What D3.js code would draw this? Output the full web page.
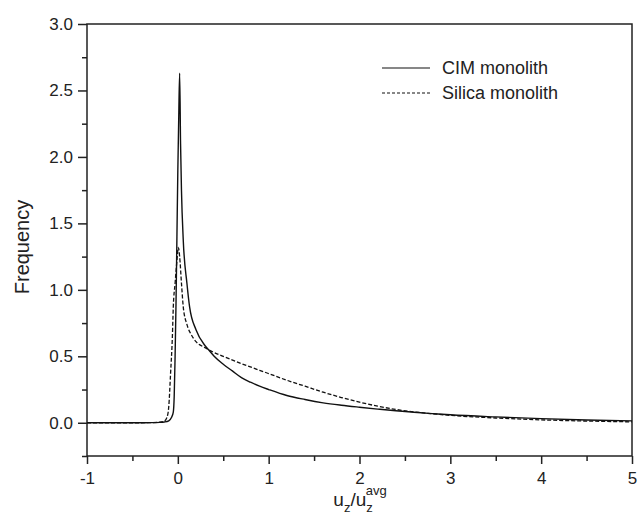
<!DOCTYPE html>
<html>
<head>
<meta charset="utf-8">
<script src="https://cdn.jsdelivr.net/npm/d3@7"></script>
<style>
  body { margin: 0; background: #fff; }
  text { font-family: Arial, "Liberation Sans", sans-serif; fill: #222; }
</style>
</head>
<body>
<div id="chart"></div>
<script>
// Velocity distribution data
const cimU = [-1, -0.5, -0.3, -0.2, -0.15, -0.1, -0.07, -0.05, -0.04, -0.03, -0.02, -0.01, 0, 0.01, 0.02, 0.03, 0.04, 0.06, 0.1, 0.13, 0.2, 0.3, 0.35, 0.4, 0.5, 0.6, 0.7, 0.8, 0.9, 1.0, 1.2, 1.4, 1.6, 1.8, 2.0, 2.2, 2.4, 2.6, 2.8, 3.0, 3.5, 4.0, 4.5, 5.0];
const cimFreq = [0, 0, 0.001, 0.003, 0.006, 0.015, 0.04, 0.08, 0.2, 0.5, 0.9, 1.4, 1.9, 2.3, 2.63, 2.1, 1.75, 1.37, 1.05, 0.87, 0.7, 0.58, 0.54, 0.5, 0.44, 0.39, 0.34, 0.305, 0.275, 0.25, 0.205, 0.175, 0.15, 0.132, 0.117, 0.103, 0.09, 0.079, 0.069, 0.06, 0.044, 0.031, 0.021, 0.014];

const silicaU = [-1, -0.5, -0.3, -0.2, -0.15, -0.12, -0.1, -0.08, -0.06, -0.05, -0.03, -0.01, 0.005, 0.02, 0.04, 0.06, 0.1, 0.15, 0.2, 0.3, 0.35, 0.5, 0.7, 0.9, 1.0, 1.2, 1.4, 1.6, 1.8, 2.0, 2.2, 2.4, 2.6, 2.8, 3.0, 3.5, 4.0, 4.5, 5.0];
const silicaFreq = [0, 0, 0.001, 0.004, 0.012, 0.04, 0.12, 0.37, 0.65, 0.87, 1.05, 1.22, 1.32, 1.25, 1.05, 0.87, 0.74, 0.66, 0.61, 0.565, 0.545, 0.5, 0.445, 0.395, 0.37, 0.32, 0.275, 0.23, 0.19, 0.155, 0.125, 0.1, 0.082, 0.068, 0.056, 0.036, 0.022, 0.013, 0.007];

const xTicks = [-1, 0, 1, 2, 3, 4, 5];
const xMinor = [-0.5, 0.5, 1.5, 2.5, 3.5, 4.5];
const yTicks = [0, 0.5, 1.0, 1.5, 2.0, 2.5, 3.0];
const yMinor = [-0.25, 0.25, 0.75, 1.25, 1.75, 2.25, 2.75];

const seriesNames = ["CIM monolith", "Silica monolith"];

// Dimensions
var margin = { top: 24, right: 10, bottom: 69, left: 87 },
  width = 642 - margin.left - margin.right,
  height = 525 - margin.top - margin.bottom;

const svg = d3.select("#chart")
  .append("svg")
  .attr("width", 642)
  .attr("height", 525)
  .append("g")
  .attr("transform", `translate(${margin.left}, ${margin.top})`);

const x = d3.scaleLinear().domain([-1, 5]).range([0, width]);
const y = d3.scaleLinear().domain([-0.25, 3.0]).range([height, 0]);

// X axis
const xAxis = svg.append("g")
  .attr("transform", `translate(0, ${height})`)
  .call(d3.axisBottom(x).tickValues(xTicks).tickSize(8).tickSizeOuter(0).tickFormat(function (d) { return String(d); }));
xAxis.select(".domain").remove();
xAxis.selectAll("text").attr("font-size", "17px").attr("dy", "0.95em").attr("y", 12);
svg.append("g")
  .attr("transform", `translate(0, ${height})`)
  .call(d3.axisBottom(x).tickValues(xMinor).tickSize(5).tickFormat(""))
  .select(".domain").remove();

// Y axis
const yAxis = svg.append("g")
  .call(d3.axisLeft(y).tickValues(yTicks).tickSize(9).tickSizeOuter(0).tickFormat(d3.format(".1f")));
yAxis.select(".domain").remove();
yAxis.selectAll("text").attr("font-size", "17px").attr("x", -14);
svg.append("g")
  .call(d3.axisLeft(y).tickValues(yMinor).tickSize(5).tickFormat(""))
  .select(".domain").remove();

svg.selectAll(".tick line").attr("stroke", "#222").attr("stroke-width", 1.5);

// Frame
svg.append("rect")
  .attr("x", 0).attr("y", 0)
  .attr("width", width).attr("height", height)
  .attr("fill", "none")
  .attr("stroke", "#222")
  .attr("stroke-width", 1.5);

// Lines
const line = d3.line()
  .x(function (d) { return x(d[0]); })
  .y(function (d) { return y(d[1]); })
  .curve(d3.curveMonotoneX);

svg.append("path")
  .datum(d3.zip(cimU, cimFreq))
  .attr("d", line)
  .attr("fill", "none")
  .attr("stroke", "#111")
  .attr("stroke-width", 1.4);

svg.append("path")
  .datum(d3.zip(silicaU, silicaFreq))
  .attr("d", line)
  .attr("fill", "none")
  .attr("stroke", "#111")
  .attr("stroke-width", 1.3)
  .attr("stroke-dasharray", "4,2");

// Legend
const legend = svg.append("g").attr("transform", `translate(${382 - margin.left}, ${68 - margin.top})`);
seriesNames.forEach(function (name, i) {
  legend.append("line")
    .attr("x1", 0).attr("x2", 48)
    .attr("y1", i * 25).attr("y2", i * 25)
    .attr("stroke", "#111")
    .attr("stroke-width", 1.2)
    .attr("stroke-dasharray", i === 1 ? "3,2" : null);
  legend.append("text")
    .attr("x", 60)
    .attr("y", i * 25)
    .attr("dy", "0.35em")
    .attr("font-size", "18px")
    .text(name);
});

// Axis titles
svg.append("text")
  .attr("transform", `translate(${29 - margin.left}, ${247 - margin.top}) rotate(-90)`)
  .attr("text-anchor", "middle")
  .attr("font-size", "20px")
  .text("Frequency");

const xt = svg.append("text")
  .attr("x", 360 - margin.left)
  .attr("y", 506 - margin.top)
  .attr("text-anchor", "middle")
  .attr("font-size", "19px");
xt.append("tspan").text("u");
xt.append("tspan").attr("font-size", "13px").attr("dy", 6).text("z");
xt.append("tspan").attr("dy", -6).text("/u");
xt.append("tspan").attr("font-size", "13px").attr("dy", 6).text("z");
xt.append("tspan").attr("font-size", "13px").attr("dx", -7).attr("dy", -17).text("avg");
</script>
</body>
</html>
